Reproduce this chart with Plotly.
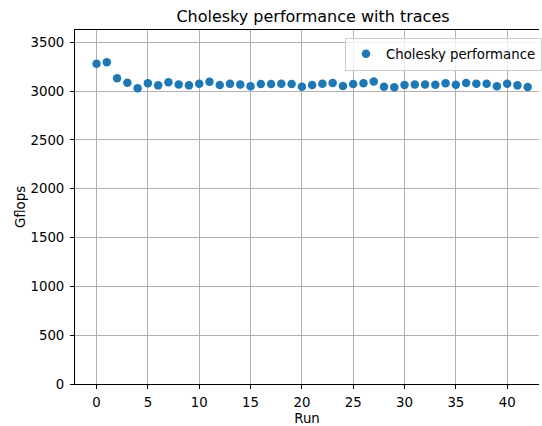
import plotly.graph_objects as go

# Cholesky benchmark: one Gflops measurement per run
runs = list(range(43))
gflops = [
    3279, 3294, 3130, 3085, 3028, 3079, 3058, 3089, 3068, 3058,
    3075, 3095, 3061, 3075, 3068, 3048, 3072, 3072, 3075, 3072,
    3045, 3061, 3075, 3082, 3051, 3072, 3079, 3098, 3045, 3038,
    3061, 3068, 3068, 3065, 3079, 3065, 3082, 3075, 3075, 3048,
    3075, 3058, 3041,
]
x_ticks = [0, 5, 10, 15, 20, 25, 30, 35, 40]
y_ticks = [0, 500, 1000, 1500, 2000, 2500, 3000, 3500]

FONT = "DejaVu Sans"
BLUE = "#1f77b4"
GRID = "#b0b0b0"
TXT = 13.3

fig = go.Figure(
    go.Scatter(
        x=runs,
        y=gflops,
        mode="markers",
        name="Cholesky performance",
        marker=dict(color=BLUE, size=8.5, line=dict(width=0)),
    )
)

axis_common = dict(
    showgrid=True,
    gridcolor=GRID,
    gridwidth=1,
    showline=True,
    linecolor="black",
    linewidth=1,
    ticks="outside",
    ticklen=4,
    tickwidth=1,
    tickcolor="black",
    zeroline=False,
    tickfont=dict(family=FONT, size=TXT, color="black"),
)

fig.update_layout(
    width=542,
    height=426,
    margin=dict(l=75, r=0, t=30, b=42),
    paper_bgcolor="white",
    plot_bgcolor="white",
    font=dict(family=FONT, color="black"),
    title=dict(
        text="Cholesky performance with traces",
        font=dict(family=FONT, size=16, color="black"),
        xref="container",
        x=313 / 542,
        xanchor="center",
        yref="container",
        y=1 - 16 / 426,
        yanchor="middle",
    ),
    xaxis=dict(
        **axis_common,
        range=[-2.1, 43.1],
        tickvals=x_ticks,
        mirror=True,
        ticklabelstandoff=2,
        title=dict(text="Run", font=dict(family=FONT, size=TXT), standoff=5),
    ),
    yaxis=dict(
        **axis_common,
        range=[0, 3625],
        tickvals=y_ticks,
        mirror=False,
        ticklabelstandoff=3,
        title=dict(text="Gflops", font=dict(family=FONT, size=TXT), standoff=1),
    ),
    showlegend=True,
    legend=dict(
        x=(347 - 75) / 467,
        xanchor="left",
        y=1 - (37.5 - 30) / 354,
        yanchor="top",
        bgcolor="rgba(255,255,255,0.8)",
        bordercolor="#cccccc",
        borderwidth=1,
        font=dict(family=FONT, size=TXT, color="black"),
    ),
)

fig.write_html("out.html")
